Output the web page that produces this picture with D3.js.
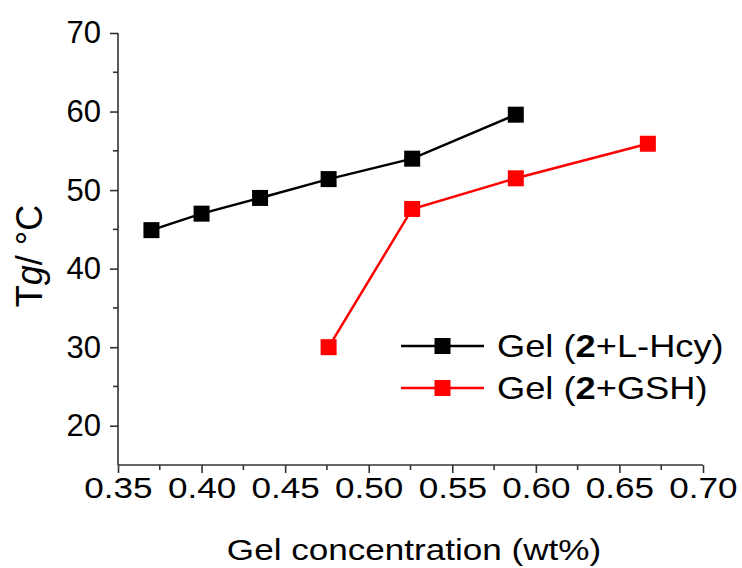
<!DOCTYPE html>
<html>
<head>
<meta charset="utf-8">
<script src="https://cdn.jsdelivr.net/npm/d3@7"></script>
<style>
  body { margin: 0; background: #fff; }
  text { font-family: "Liberation Sans", Arial, sans-serif; fill: #000; }
</style>
</head>
<body>
<svg id="chart" width="742" height="568"></svg>
<script>
// data
var hcyX = [0.370, 0.400, 0.435, 0.476, 0.526, 0.588];
var hcyY = [44.9, 47.0, 49.0, 51.4, 54.0, 59.6];
var gshX = [0.476, 0.526, 0.588, 0.667];
var gshY = [30.0, 47.6, 51.5, 55.9];
var xTicks = [0.35, 0.40, 0.45, 0.50, 0.55, 0.60, 0.65, 0.70];
var yTicks = [20, 30, 40, 50, 60, 70];

var svg = d3.select('#chart');
var mLeft = 118, mRight = 703, mTop = 33, mBottom = 465;
var stretch = 1.17; // the figure's text is a bit wide

var x = d3.scaleLinear().domain([0.35, 0.70]).range([mLeft, mRight]);
var y = d3.scaleLinear().domain([15, 70]).range([mBottom, mTop]);

var xAxis = d3.axisBottom(x).tickValues(xTicks).tickFormat(d3.format('.2f')).tickSize(8).tickPadding(4);
var yAxis = d3.axisLeft(y).tickValues(yTicks).tickSize(8).tickPadding(9);

// minor ticks
var xMinor = d3.range(0.375, 0.70, 0.05);
var yMinor = d3.range(25, 70, 10);

var gx = svg.append('g').attr('transform', 'translate(0,' + mBottom + ')').call(xAxis);
var gy = svg.append('g').attr('transform', 'translate(' + mLeft + ',0)').call(yAxis);

gx.selectAll('.domain').attr('d', 'M' + mLeft + ',0H' + mRight);
gy.selectAll('.domain').attr('d', 'M0,' + mBottom + 'V' + mTop);

[gx, gy].forEach(function (g) {
    g.selectAll('.domain, line').attr('stroke', '#333').attr('stroke-width', 1.6);
});
gx.selectAll('text').style('font-size', '30px').attr('fill', '#000')
    .attr('transform', 'scale(' + stretch + ',1)');
gy.selectAll('text').style('font-size', '31px').attr('fill', '#000');

gx.selectAll('.minor').data(xMinor).enter().append('line')
    .attr('x1', function (d) { return x(d); }).attr('x2', function (d) { return x(d); })
    .attr('y1', 0).attr('y2', 5).attr('stroke', '#333').attr('stroke-width', 1.6);
gy.selectAll('.minor').data(yMinor).enter().append('line')
    .attr('y1', function (d) { return y(d); }).attr('y2', function (d) { return y(d); })
    .attr('x1', 0).attr('x2', -5).attr('stroke', '#333').attr('stroke-width', 1.6);

// axis titles
svg.append('text')
    .attr('transform', 'translate(' + 414 + ',560) scale(' + stretch + ',1)')
    .attr('text-anchor', 'middle').style('font-size', '30px')
    .text('Gel concentration (wt%)');

var yl = svg.append('text')
    .attr('transform', 'translate(42,256) rotate(-90)')
    .attr('text-anchor', 'middle').style('font-size', '36px');
yl.append('tspan').text('T');
yl.append('tspan').style('font-style', 'italic').text('g');
yl.append('tspan').text('/ °C');

// series
var series = [
    { name: '2+L-Hcy', xs: hcyX, ys: hcyY, color: '#000' },
    { name: '2+GSH', xs: gshX, ys: gshY, color: '#ff0000' }
];

var line = d3.line().x(function (d) { return x(d[0]); }).y(function (d) { return y(d[1]); });
var ms = 16;

series.forEach(function (s) {
    var pts = d3.zip(s.xs, s.ys);
    svg.append('path').datum(pts).attr('d', line)
        .attr('fill', 'none').attr('stroke', s.color).attr('stroke-width', 2.5);
    svg.selectAll(null).data(pts).enter().append('rect')
        .attr('x', function (d) { return x(d[0]) - ms / 2; })
        .attr('y', function (d) { return y(d[1]) - ms / 2; })
        .attr('width', ms).attr('height', ms).attr('fill', s.color);
});

// legend
var leg = svg.append('g');
series.forEach(function (s, i) {
    var ly = 346 + i * 42;
    leg.append('line').attr('x1', 401).attr('x2', 484).attr('y1', ly).attr('y2', ly)
        .attr('stroke', s.color).attr('stroke-width', 2.5);
    leg.append('rect').attr('x', 442.5 - ms / 2).attr('y', ly - ms / 2)
        .attr('width', ms).attr('height', ms).attr('fill', s.color);
    var t = leg.append('text')
        .attr('transform', 'translate(497,' + (ly + 11) + ') scale(' + stretch + ',1)')
        .style('font-size', '31px');
    t.append('tspan').text('Gel (');
    t.append('tspan').style('font-weight', 'bold').text('2');
    t.append('tspan').text(s.name.slice(1) + ')');
});
</script>
</body>
</html>
